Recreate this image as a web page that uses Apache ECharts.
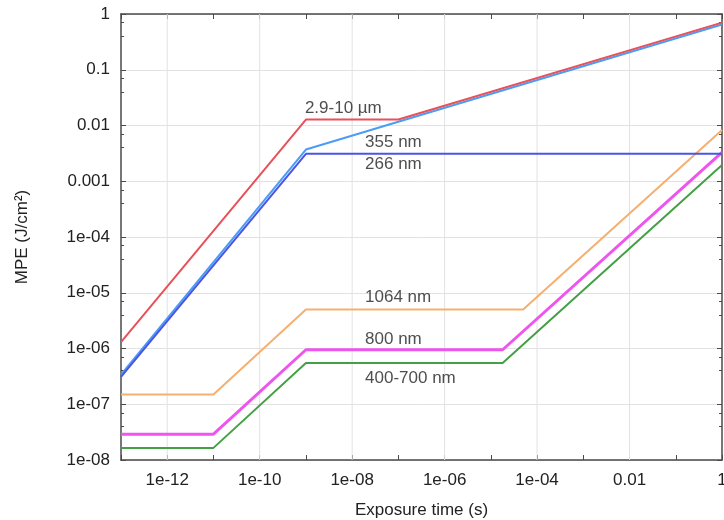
<!DOCTYPE html>
<html>
<head>
<meta charset="utf-8">
<script src="https://cdn.jsdelivr.net/npm/echarts@6/dist/echarts.min.js"></script>
<style>
html,body{margin:0;padding:0;background:#fff;}
#c{width:724px;height:520px;}
</style>
</head>
<body>
<div id="c"></div>
<script>
// ---- data (exposure time s, MPE J/cm^2) ----
const ir_2_9_10um = [[1e-13, 1.3e-6], [1e-9, 1.28e-2], [1e-7, 1.28e-2], [1, 0.70]];
const uv_355nm   = [[1e-13, 3.4e-7], [1e-9, 3.7e-3], [1, 0.65]];
const uv_266nm   = [[1e-13, 3.1e-7], [1e-9, 3.1e-3], [1, 3.1e-3]];
const nir_1064nm = [[1e-13, 1.5e-7], [1e-11, 1.5e-7], [1e-9, 5.0e-6], [5e-5, 5.0e-6], [1, 8.3e-3]];
const nir_800nm  = [[1e-13, 2.9e-8], [1e-11, 2.9e-8], [1e-9, 9.5e-7], [1.8e-5, 9.5e-7], [1, 3.3e-3]];
const vis_400_700nm = [[1e-13, 1.65e-8], [1e-11, 1.65e-8], [1e-9, 5.5e-7], [1.8e-5, 5.5e-7], [1, 1.95e-3]];

// curve labels: [x, y, text]
const curveLabels = [
  [9.5e-10, 2.0e-2, '2.9-10 µm'],
  [1.9e-8, 4.95e-3, '355 nm'],
  [1.9e-8, 2.05e-3, '266 nm'],
  [1.9e-8, 8.3e-6, '1064 nm'],
  [1.9e-8, 1.48e-6, '800 nm'],
  [1.9e-8, 2.95e-7, '400-700 nm']
];

// tick labels by decade exponent
const xTickLabels = {'-12':'1e-12','-10':'1e-10','-8':'1e-08','-6':'1e-06','-4':'1e-04','-2':'0.01','0':'1'};
const yTickLabels = {'-8':'1e-08','-7':'1e-07','-6':'1e-06','-5':'1e-05','-4':'1e-04','-3':'0.001','-2':'0.01','-1':'0.1','0':'1'};
// vertical grid lines only at the labelled x ticks
const xGridValues = [1e-12, 1e-10, 1e-8, 1e-6, 1e-4, 1e-2];
const xMin = 1e-13, xMax = 1, yMin = 1e-8, yMax = 1;

const FONT = '"Liberation Sans", Arial, sans-serif';
const TXT = '#222';
const expOf = v => Math.round(Math.log10(v));

const chart = echarts.init(document.getElementById('c'), null, {renderer: 'canvas'});

const frame = {lineStyle: {color: '#4a4a4a', width: 1.5}};
const tickStyle = {show: true, inside: true, length: 5, lineStyle: {color: '#4a4a4a', width: 1}};
const minorStyle = {show: true, splitNumber: 3, length: 3, lineStyle: {color: '#4a4a4a', width: 1}};

function line(name, data, color, width) {
  return {
    name, type: 'line', data, showSymbol: false, symbol: 'none', animation: false,
    lineStyle: {color, width}, itemStyle: {color}, z: 3
  };
}

const gridSeries = xGridValues.map((v, i) => ({
  name: 'xgrid' + i, type: 'line', silent: true, z: 1, showSymbol: false, symbol: 'none',
  data: [[v, yMin], [v, yMax]],
  lineStyle: {color: '#e2e2e2', width: 1}
}));

chart.setOption({
  animation: false,
  backgroundColor: '#fff',
  grid: {left: 121, right: 2, top: 14, bottom: 60, containLabel: false, outerBoundsMode: 'none'},
  xAxis: [{
    type: 'log', logBase: 10, min: xMin, max: xMax, interval: 1,
    name: 'Exposure time (s)', nameLocation: 'middle', nameGap: 42,
    nameTextStyle: {fontFamily: FONT, fontSize: 17, color: TXT},
    axisLine: {show: true, ...frame},
    axisTick: tickStyle,
    axisLabel: {
      fontFamily: FONT, fontSize: 17, color: TXT, margin: 12,
      formatter: v => xTickLabels[String(expOf(v))] || ''
    },
    splitLine: {show: false}
  }, {
    type: 'log', logBase: 10, min: xMin, max: xMax, interval: 1, position: 'top',
    axisLine: {show: true, ...frame}, axisTick: tickStyle,
    axisLabel: {show: false}, splitLine: {show: false}
  }],
  yAxis: [{
    type: 'log', logBase: 10, min: yMin, max: yMax, interval: 1,
    name: 'MPE (J/cm²)', nameLocation: 'middle', nameGap: 90, nameRotate: 90,
    nameTextStyle: {fontFamily: FONT, fontSize: 17, color: TXT},
    axisLine: {show: true, ...frame},
    axisTick: tickStyle,
    minorTick: minorStyle,
    axisLabel: {
      fontFamily: FONT, fontSize: 17, color: TXT, margin: 11,
      formatter: v => yTickLabels[String(expOf(v))] || ''
    },
    splitLine: {show: true, lineStyle: {color: '#e2e2e2', width: 1}}
  }, {
    type: 'log', logBase: 10, min: yMin, max: yMax, interval: 1, position: 'right',
    axisLine: {show: true, ...frame}, axisTick: tickStyle, minorTick: minorStyle,
    axisLabel: {show: false}, splitLine: {show: false}
  }],
  series: gridSeries.concat([
    line('400-700 nm', vis_400_700nm, '#45a045', 2),
    line('800 nm', nir_800nm, '#ee55ee', 3),
    line('1064 nm', nir_1064nm, '#f5b070', 2),
    line('355 nm', uv_355nm, '#4a9cf5', 2),
    line('266 nm', uv_266nm, '#4a55e4', 2),
    line('2.9-10 µm', ir_2_9_10um, '#e8505a', 2),
    {
      name: 'labels', type: 'scatter', data: curveLabels, symbolSize: 0, z: 5,
      label: {
        show: true, position: 'right', distance: 0,
        formatter: p => p.data[2],
        fontFamily: FONT, fontSize: 17, color: TXT, verticalAlign: 'middle'
      }
    }
  ])
});
</script>
</body>
</html>
